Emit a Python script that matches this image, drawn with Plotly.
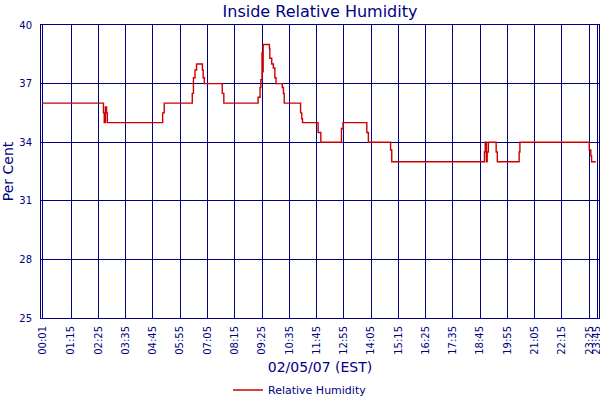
import plotly.graph_objects as go

# Change points of the step series (time of day, relative humidity %)
times = ["00:01", "02:38", "02:40", "02:43", "02:46", "02:48", "05:10", "05:14",
         "06:26", "06:29", "06:33", "06:37", "06:52", "06:54", "06:57", "07:43", "07:47",
         "09:15", "09:20", "09:22", "09:25", "09:26", "09:28", "09:44", "09:45", "09:50",
         "09:54", "09:58", "10:01", "10:17", "10:20", "10:22", "11:04", "11:07", "11:09",
         "11:49", "11:56", "12:49", "12:53", "13:54", "13:58", "14:55", "14:58",
         "18:56", "18:58", "19:01", "19:03", "19:06", "19:26", "19:29", "20:25", "20:27",
         "23:25", "23:29", "23:31", "23:42"]
humidity = [36, 35.5, 35, 35.8, 35.5, 35, 35.5, 36,
            36.5, 37.3, 37.7, 38, 37.7, 37.3, 37, 36.5, 36,
            36.3, 36.8, 37.2, 38.6, 37.6, 39, 38.8, 38.3, 38,
            37.8, 37.3, 37, 36.8, 36.5, 36, 35.5, 35.2, 35,
            34.5, 34, 34.7, 35, 34.5, 34, 33.6, 33,
            33.5, 34, 33, 33.5, 34, 33.5, 33, 33.5, 34,
            33.6, 33.3, 33, 33]

tick_labels = ["00:01", "01:15", "02:25", "03:35", "04:45", "05:55", "07:05", "08:15",
               "09:25", "10:35", "11:45", "12:55", "14:05", "15:15", "16:25", "17:35",
               "18:45", "19:55", "21:05", "22:15", "23:25", "23:45"]
y_ticks = [25, 28, 31, 34, 37, 40]


def to_min(s):
    h, m = s.split(":")
    return int(h) * 60 + int(m)


x = [to_min(t) for t in times]
tick_vals = [to_min(t) for t in tick_labels]

navy = "#000080"
font = "DejaVu Sans"

fig = go.Figure()
fig.add_trace(go.Scatter(
    x=x, y=humidity, mode="lines", line_shape="hv",
    line=dict(color="#CC0000", width=1.4),
    name="Relative Humidity", hoverinfo="skip",
))

fig.update_layout(
    width=600, height=400,
    margin=dict(l=41, r=1, t=25, b=82, autoexpand=False),
    paper_bgcolor="white", plot_bgcolor="white",
    title=dict(text="Inside Relative Humidity", x=0.5, xref="paper", xanchor="center",
               y=0.972, yref="container", yanchor="middle",
               font=dict(family=font, size=16, color=navy)),
    showlegend=True,
    legend=dict(orientation="h", xref="container", x=0.5, xanchor="center",
                yref="container", y=0.025, yanchor="middle",
                font=dict(family=font, size=11, color=navy),
                bgcolor="rgba(0,0,0,0)"),
    font=dict(family=font, color=navy),
)

fig.update_xaxes(
    range=[-2.3, 1430], tickmode="array", tickvals=tick_vals, ticktext=tick_labels,
    tickangle=-90, tickfont=dict(family=font, size=10, color=navy),
    showgrid=True, gridcolor=navy, gridwidth=1,
    showline=True, linecolor=navy, linewidth=1, mirror=True,
    zeroline=False, ticks="", ticklabelstandoff=3, automargin=False,
    ticklabeloverflow="allow",
    title=dict(text="02/05/07 (EST)", font=dict(family=font, size=14, color=navy), standoff=8),
)
fig.update_yaxes(
    range=[25, 40], tickmode="array", tickvals=y_ticks,
    tickfont=dict(family=font, size=10, color=navy),
    showgrid=True, gridcolor=navy, gridwidth=1,
    showline=True, linecolor=navy, linewidth=1, mirror=True,
    zeroline=False, ticks="", ticklabelstandoff=6, automargin=False,
    title=dict(text="Per Cent", font=dict(family=font, size=14, color=navy), standoff=3),
)

fig.write_html("out.html", config={"displayModeBar": False},
               post_script="document.body.style.margin='0';")
